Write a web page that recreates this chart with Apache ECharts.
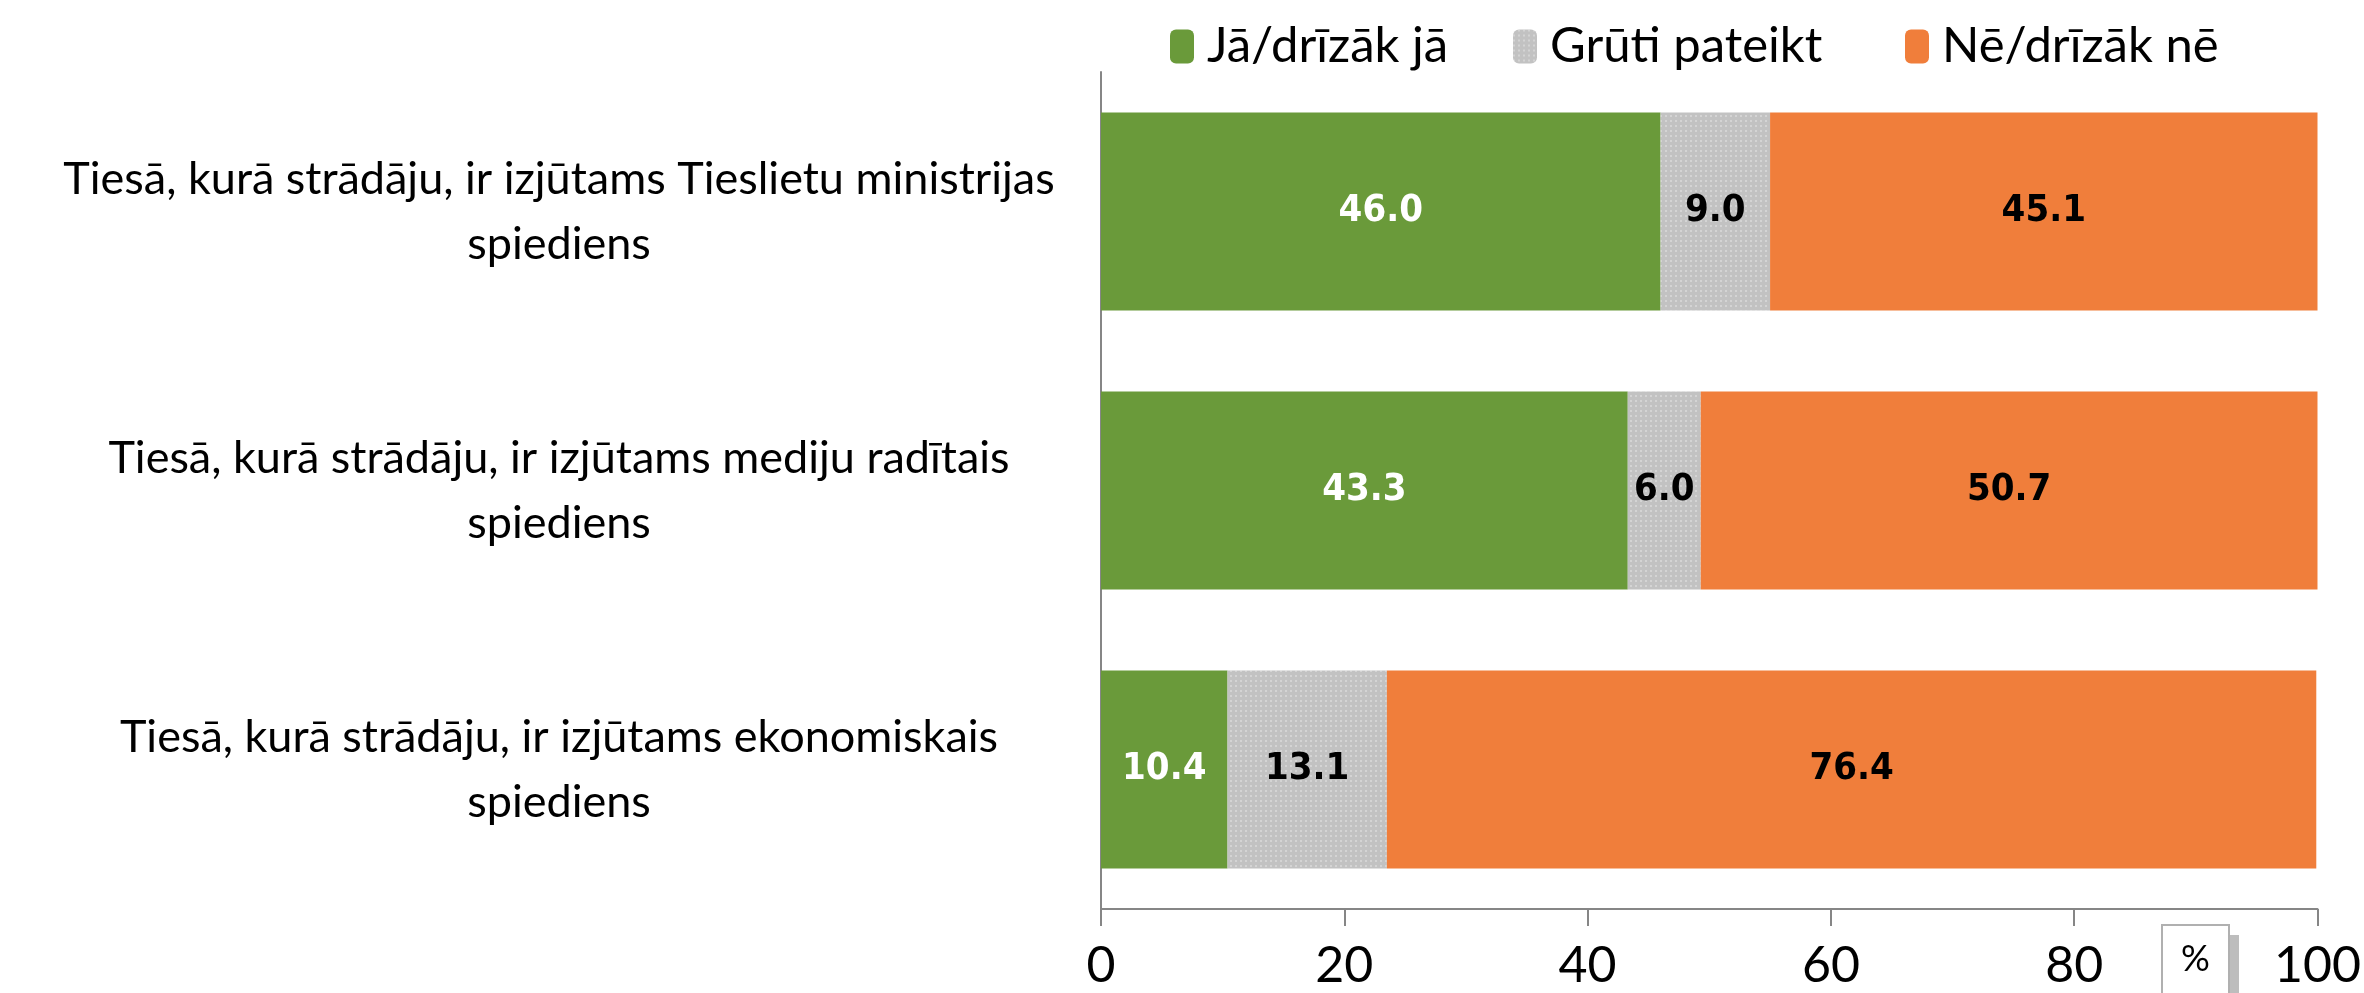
<!DOCTYPE html>
<html lang="lv">
<head>
  <meta charset="UTF-8">
  <title>Tiesu spiediens</title>
  <script src="https://cdn.jsdelivr.net/npm/echarts@6/dist/echarts.min.js"></script>
  <style>
    html, body { margin: 0; padding: 0; background: #fff; }
    #main { width: 2364px; height: 993px; }
  </style>
</head>
<body>
  <div id="main"></div>
  <script>
    // kategorijas (no augšas uz leju)
    const kategorijas = [
      'Tiesā, kurā strādāju, ir izjūtams Tieslietu ministrijas\nspiediens',
      'Tiesā, kurā strādāju, ir izjūtams mediju radītais\nspiediens',
      'Tiesā, kurā strādāju, ir izjūtams ekonomiskais\nspiediens'
    ];
    // vērtības, %
    const ja = [46.0, 43.3, 10.4];
    const grutiPateikt = [9.0, 6.0, 13.1];
    const ne = [45.1, 50.7, 76.4];
    const xTicks = [0, 20, 40, 60, 80, 100];
    const serijas = ['Jā/drīzāk jā', 'Grūti pateikt', 'Nē/drīzāk nē'];

    const fonts = 'Lato, "Open Sans", sans-serif';
    const labelFont = '"DejaVu Sans Condensed", "DejaVu Sans", sans-serif';

    function datuEtikete(krasa) {
      return {
        show: true,
        position: 'inside',
        color: krasa,
        fontFamily: labelFont,
        fontWeight: 'bold',
        fontSize: 38,
        formatter: p => p.value.toFixed(1)
      };
    }

    // katram leģendas elementam sava vieta, kā oriģinālā
    const legendLeft = [1165, 1508, 1900];
    const legendas = serijas.map((s, i) => ({
      left: legendLeft[i],
      top: 17,
      itemWidth: 24,
      itemHeight: 34,
      textStyle: { fontFamily: fonts, fontSize: 49, color: '#000', padding: [0, 0, 0, 8] },
      data: [s]
    }));

    var myChart = echarts.init(document.getElementById('main'));
    var option = {
      animation: false,
      legend: legendas,
      grid: { left: 1101, right: 44, top: 72, bottom: 84 },
      xAxis: {
        type: 'value',
        min: xTicks[0],
        max: xTicks[xTicks.length - 1],
        interval: 20,
        axisLine: { show: true, lineStyle: { color: '#868686', width: 2 } },
        axisTick: { show: true, length: 17, lineStyle: { color: '#868686', width: 2 } },
        splitLine: { show: false },
        axisLabel: { fontFamily: fonts, fontSize: 50, color: '#000', margin: 32 }
      },
      yAxis: {
        type: 'category',
        inverse: true,
        data: kategorijas,
        axisLine: { show: true, lineStyle: { color: '#868686', width: 2 } },
        axisTick: { show: false },
        axisLabel: {
          fontFamily: fonts,
          fontSize: 45,
          color: '#000',
          align: 'center',
          margin: 542,
          lineHeight: 65
        }
      },
      series: [
        {
          name: serijas[0],
          type: 'bar',
          stack: 'kopā',
          barCategoryGap: '29%',
          data: ja,
          itemStyle: { color: '#6a9a3a' },
          label: datuEtikete('#fff')
        },
        {
          name: serijas[1],
          type: 'bar',
          stack: 'kopā',
          data: grutiPateikt,
          itemStyle: {
            color: '#c2c2c2',
            decal: {
              symbol: 'rect',
              symbolSize: 1,
              color: 'rgba(255,255,255,0.3)',
              dashArrayX: [[2, 3]],
              dashArrayY: [2, 3]
            }
          },
          label: datuEtikete('#000')
        },
        {
          name: serijas[2],
          type: 'bar',
          stack: 'kopā',
          data: ne,
          itemStyle: { color: '#f07e3b' },
          label: datuEtikete('#000')
        }
      ],
      graphic: [
        { type: 'rect', left: 2228, top: 935, shape: { width: 11, height: 60 }, style: { fill: '#bdbdbd' } },
        { type: 'rect', left: 2161, top: 924, shape: { width: 67, height: 72 }, style: { fill: '#fff', stroke: '#b0b0b0', lineWidth: 2 } },
        { type: 'text', left: 2181, top: 941, style: { text: '%', fontFamily: fonts, fontSize: 36, fill: '#000' } }
      ]
    };

    myChart.setOption(option);
  </script>
</body>
</html>
